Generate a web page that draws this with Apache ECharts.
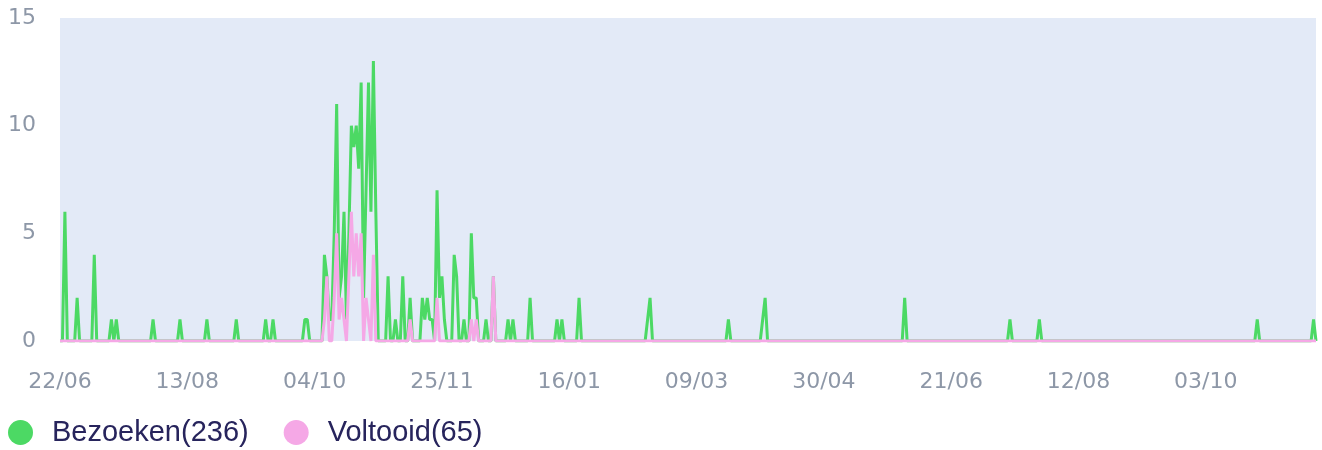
<!DOCTYPE html>
<html>
<head>
<meta charset="utf-8">
<script src="https://cdn.jsdelivr.net/npm/echarts@6/dist/echarts.min.js"></script>
<style>
  html, body { margin: 0; padding: 0; background: #fff; }
  #chart { width: 1322px; height: 450px; }
</style>
</head>
<body>
<div id="chart"></div>
<script>
// daily categories, first day 22/06/2022
var startDate = new Date(2022, 5, 22);
var dayCount = 514;

// days (index from start) with visits, and the counts
var bezoekenDays = [2, 7, 14, 21, 23, 38, 49, 60, 72, 84, 87, 100, 101,
  108, 109, 110, 111, 112, 113, 114, 115, 116, 117, 118, 119, 120, 121, 122, 123, 124, 125, 126, 127, 128, 129,
  134, 137, 140, 143, 148, 149, 150, 151, 152, 154, 155, 156, 157, 161, 162, 165, 168, 169, 170, 174, 177, 183, 185, 192,
  203, 205, 212, 240, 241, 273, 287, 288, 345, 388, 400, 489, 512];
var bezoekenValues = [6, 2, 4, 1, 1, 1, 1, 1, 1, 1, 1, 1, 1,
  4, 3, 1, 1, 5, 11, 2, 3, 6, 1, 5, 10, 9, 10, 8, 12, 2, 7, 12, 6, 13, 6,
  3, 1, 3, 2, 2, 1, 2, 1, 1, 7, 2, 3, 1, 4, 3, 1, 5, 2, 2, 1, 3, 1, 1, 2,
  1, 1, 2, 1, 2, 1, 1, 2, 2, 1, 1, 1, 1];

var voltooidDays = [108, 109, 112, 113, 114, 115, 116, 118, 119, 120, 121, 122, 123, 125, 126, 128,
  143, 154, 168, 170, 177];
var voltooidValues = [1, 3, 2, 5, 1, 2, 1, 3, 6, 3, 5, 3, 5, 2, 1, 4,
  1, 2, 1, 1, 3];

var legendNames = ['Bezoeken(236)', 'Voltooid(65)'];
var seriesColors = ['#4cd964', '#f5a8e6'];

function pad(n) { return (n < 10 ? '0' : '') + n; }

var categories = [];
for (var i = 0; i < dayCount; i++) {
  var d = new Date(startDate.getFullYear(), startDate.getMonth(), startDate.getDate() + i);
  categories.push(pad(d.getDate()) + '/' + pad(d.getMonth() + 1));
}

function toSeries(days, values) {
  var out = [];
  for (var i = 0; i < dayCount; i++) out.push(0);
  days.forEach(function (day, k) { out[day] = values[k]; });
  return out;
}

var chartDom = document.getElementById('chart');
var myChart = echarts.init(chartDom);
var option;

option = {
  animation: false,
  color: seriesColors,
  grid: {
    show: true,
    left: 60,
    right: 6,
    top: 18,
    bottom: 109,
    backgroundColor: '#e3eaf7',
    borderWidth: 0
  },
  legend: {
    left: 3,
    top: 413,
    icon: 'circle',
    itemWidth: 25,
    itemHeight: 25,
    itemGap: 35,
    textStyle: {
      fontFamily: 'Liberation Sans',
      fontSize: 29,
      color: '#27245c',
      padding: [0, 0, 0, 14]
    },
    data: legendNames
  },
  xAxis: {
    type: 'category',
    boundaryGap: false,
    data: categories,
    axisLine: { show: false },
    axisTick: { show: false },
    splitLine: { show: false },
    axisLabel: {
      interval: 51,
      margin: 30,
      color: '#8d97a7',
      fontFamily: 'DejaVu Sans',
      fontSize: 22
    }
  },
  yAxis: {
    type: 'value',
    min: 0,
    max: 15,
    interval: 5,
    axisLine: { show: false },
    axisTick: { show: false },
    splitLine: { show: false },
    axisLabel: {
      margin: 24,
      color: '#8d97a7',
      fontFamily: 'DejaVu Sans',
      fontSize: 22
    }
  },
  series: [
    {
      name: legendNames[0],
      type: 'line',
      data: toSeries(bezoekenDays, bezoekenValues),
      showSymbol: false,
      lineStyle: { width: 3 },
      emphasis: { disabled: true }
    },
    {
      name: legendNames[1],
      type: 'line',
      data: toSeries(voltooidDays, voltooidValues),
      showSymbol: false,
      lineStyle: { width: 3 },
      emphasis: { disabled: true }
    }
  ]
};

option && myChart.setOption(option);
</script>
</body>
</html>
